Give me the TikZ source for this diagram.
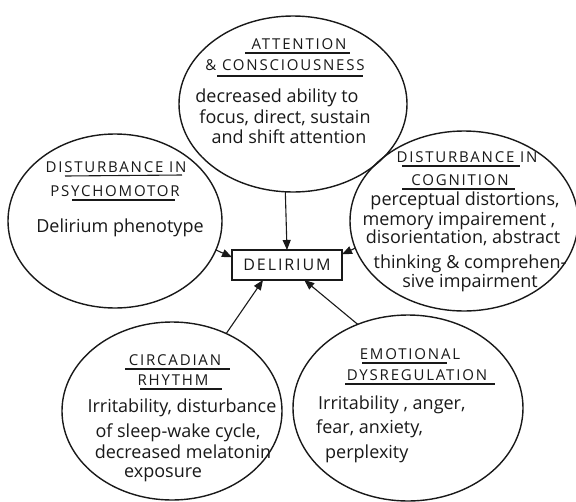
\documentclass[tikz,border=0pt]{standalone}
\usepackage{fontspec}
\setmainfont{Open Sans}
\newfontfamily\titlefont[LetterSpace=12]{Open Sans}
\usetikzlibrary{arrows.meta,shapes.geometric}
\definecolor{ink}{RGB}{25,25,25}
\begin{document}
\begin{tikzpicture}[x=1pt,y=-1pt,
  bubble/.style={draw=ink, line width=1.4pt, ellipse, inner sep=0pt, outer sep=0pt},
  ttl/.style={font=\titlefont\fontsize{15}{17}\selectfont, inner sep=0pt, anchor=base, text=ink},
  bod/.style={font=\fontsize{18}{21}\selectfont, inner sep=0pt, anchor=base, text=ink},
  uline/.style={draw=ink, line width=1.1pt},
  arr/.style={draw=ink, line width=1.1pt, -{Triangle[length=10pt,width=8pt]}},
  boxstyle/.style={draw=ink, line width=1.3pt, minimum width=110pt, minimum height=30pt, inner sep=0pt, outer sep=0pt,
    font=\titlefont\fontsize{16}{18}\selectfont, text=ink}]
\useasboundingbox[fill=white] (0,0) rectangle (576,501);

% bubbles
\node[bubble, minimum width=228pt, minimum height=176pt] (att) at (293,104) {};
\node[bubble, minimum width=214pt, minimum height=174pt] (psy) at (115,221) {};
\node[bubble, minimum width=228pt, minimum height=180pt] (cog) at (464,221) {};
\node[bubble, minimum width=220pt, minimum height=178pt] (circ) at (172,411) {};
\node[bubble, minimum width=230pt, minimum height=186pt] (emo) at (408,408) {};

% centre box
\node[boxstyle] (box) at (287,265) {DELIRIUM};

% arrows
\draw[arr] (att.-95) -- (box.north);
\draw[arr] (psy.-16) -- (box.172);
\draw[arr] (cog.194) -- (box.11);
\draw[arr] (circ.55) -- (box.212);
\draw[arr] (emo.121) -- (box.-41);

% attention & consciousness
\node[ttl] (attA) at (299,49) {ATTENTION};
\node[ttl] (attB) at (285,70) {\& CONSCIOUSNESS};
\draw[uline] (245,53) -- (350,53);
\draw[uline] (217,76) -- (363,76);
\node[bod] (attC) at (277,102) {decreased ability to};
\node[bod] (attD) at (285,123) {focus, direct, sustain};
\node[bod] (attE) at (289,143) {and shift attention};

% psychomotor
\node[ttl] (psyA) at (116,172) {DISTURBANCE IN};
\node[ttl] (psyB) at (115,196) {PSYCHOMOTOR};
\draw[uline] (65,176) -- (182,175);
\draw[uline] (72,200) -- (175,200);
\node[bod] (psyC) at (120,232) {Delirium phenotype};

% cognition
\node[ttl] (cogA) at (467,162) {DISTURBANCE IN};
\node[ttl] (cogB) at (460,185) {COGNITION};
\draw[uline] (402,166) -- (520,166);
\draw[uline] (402,189) -- (515,189);
\node[bod] (cogC) at (465,205) {perceptual distortions,};
\node[bod] (cogD) at (459,225) {memory impairement ,};
\node[bod] (cogE) at (463,243) {disorientation, abstract};
\node[bod] (cogF) at (470,268) {thinking \& comprehen-};
\node[bod] (cogG) at (470,287) {sive impairment};

% circadian rhythm
\node[ttl] (circA) at (175,365) {CIRCADIAN};
\node[ttl] (circB) at (173,385) {RHYTHM};
\draw[uline] (125,369) -- (230,369);
\draw[uline] (140,389) -- (222,389);
\node[bod] (circC) at (182,412) {Irritability, disturbance};
\node[bod] (circD) at (178,437) {of sleep-wake cycle,};
\node[bod] (circE) at (183,458) {decreased melatonin};
\node[bod] (circF) at (163,477) {exposure};

% emotional dysregulation
\node[ttl] (emoA) at (410,359) {EMOTIONAL};
\node[ttl] (emoB) at (417,380) {DYSREGULATION};
\draw[uline] (362,363) -- (447,363);
\draw[uline] (345,384) -- (495,384);
\node[bod, anchor=base west] (emoC) at (318,409) {Irritability , anger,};
\node[bod, anchor=base west] (emoD) at (316,433) {fear, anxiety,};
\node[bod, anchor=base west] (emoE) at (325,458) {perplexity};
\end{tikzpicture}
\end{document}
